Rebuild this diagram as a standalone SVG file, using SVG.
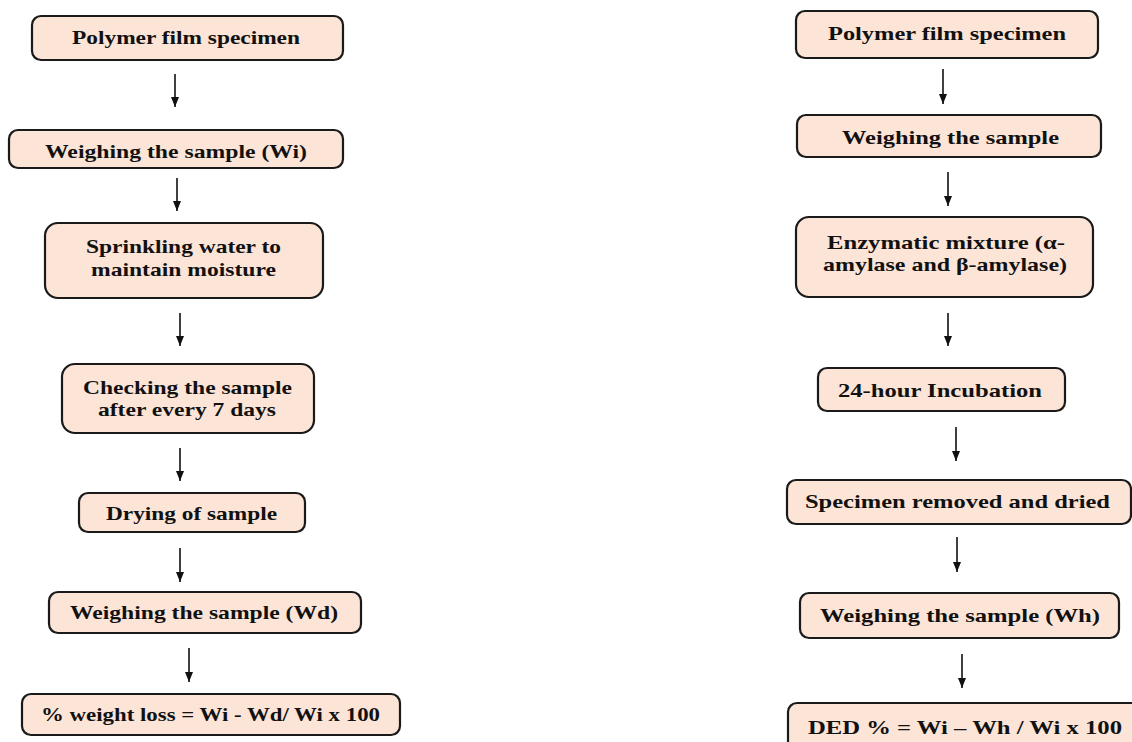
<svg xmlns="http://www.w3.org/2000/svg" width="1132" height="742" viewBox="0 0 1132 742">
<defs>
<style>
.box{fill:#FCE4D6;stroke:#1a1a1a;stroke-width:2.2}
.t{font-family:"Liberation Serif","Times New Roman",serif;font-weight:bold;font-size:19.5px;fill:#111;text-anchor:middle}
.c line{stroke:#111;stroke-width:1.6}
</style>
<marker id="ah" viewBox="0 0 10 8" refX="10" refY="4" markerWidth="10" markerHeight="8" markerUnits="userSpaceOnUse" orient="auto">
<path d="M0,0 L10,4 L0,8 Z" fill="#111"/>
</marker>
</defs>
<rect width="1132" height="742" fill="#fff"/>
<g class="c" id="connectors">
<line x1="175" y1="74" x2="175" y2="107" marker-end="url(#ah)"/>
<line x1="177" y1="178" x2="177" y2="211" marker-end="url(#ah)"/>
<line x1="180" y1="313" x2="180" y2="346" marker-end="url(#ah)"/>
<line x1="180" y1="448" x2="180" y2="481" marker-end="url(#ah)"/>
<line x1="180" y1="548" x2="180" y2="582" marker-end="url(#ah)"/>
<line x1="189" y1="648" x2="189" y2="682" marker-end="url(#ah)"/>
<line x1="943" y1="69" x2="943" y2="104" marker-end="url(#ah)"/>
<line x1="948" y1="172" x2="948" y2="206" marker-end="url(#ah)"/>
<line x1="948" y1="313" x2="948" y2="346" marker-end="url(#ah)"/>
<line x1="956" y1="427" x2="956" y2="461" marker-end="url(#ah)"/>
<line x1="957" y1="537" x2="957" y2="572" marker-end="url(#ah)"/>
<line x1="962" y1="654" x2="962" y2="688" marker-end="url(#ah)"/>
</g>
<g id="L1"><rect class="box" x="32" y="16" width="311" height="44" rx="9"/><text class="t" x="186" y="44" textLength="228" lengthAdjust="spacingAndGlyphs">Polymer film specimen</text></g>
<g id="L2"><rect class="box" x="9" y="130" width="334" height="38" rx="9"/><text class="t" x="176" y="158" textLength="262" lengthAdjust="spacingAndGlyphs">Weighing the sample (Wi)</text></g>
<g id="L3"><rect class="box" x="45" y="223" width="278" height="75" rx="13"/><text class="t" x="183.5" y="253" textLength="195" lengthAdjust="spacingAndGlyphs">Sprinkling water to</text><text class="t" x="183.5" y="276" textLength="185" lengthAdjust="spacingAndGlyphs">maintain moisture</text></g>
<g id="L4"><rect class="box" x="62" y="364" width="252" height="69" rx="13"/><text class="t" x="187.5" y="394" textLength="209" lengthAdjust="spacingAndGlyphs">Checking the sample</text><text class="t" x="187" y="416" textLength="178" lengthAdjust="spacingAndGlyphs">after every 7 days</text></g>
<g id="L5"><rect class="box" x="79" y="493" width="226" height="39" rx="9"/><text class="t" x="191.5" y="520" textLength="171" lengthAdjust="spacingAndGlyphs">Drying of sample</text></g>
<g id="L6"><rect class="box" x="49" y="592" width="312" height="41" rx="9"/><text class="t" x="204" y="619" textLength="268" lengthAdjust="spacingAndGlyphs">Weighing the sample (Wd)</text></g>
<g id="L7"><rect class="box" x="22" y="694" width="378" height="41" rx="9"/><text class="t" x="210.5" y="721" textLength="339" lengthAdjust="spacingAndGlyphs">% weight loss = Wi - Wd/ Wi x 100</text></g>
<g id="R1"><rect class="box" x="796" y="11" width="302" height="47" rx="9"/><text class="t" x="947" y="40" textLength="238" lengthAdjust="spacingAndGlyphs">Polymer film specimen</text></g>
<g id="R2"><rect class="box" x="797" y="115" width="304" height="42" rx="9"/><text class="t" x="950.5" y="144" textLength="217" lengthAdjust="spacingAndGlyphs">Weighing the sample</text></g>
<g id="R3"><rect class="box" x="796" y="217" width="297" height="80" rx="13"/><text class="t" x="946" y="249" textLength="238" lengthAdjust="spacingAndGlyphs">Enzymatic mixture (α-</text><text class="t" x="945" y="271" textLength="244" lengthAdjust="spacingAndGlyphs">amylase and β-amylase)</text></g>
<g id="R4"><rect class="box" x="818" y="368" width="247" height="43" rx="9"/><text class="t" x="940" y="397" textLength="204" lengthAdjust="spacingAndGlyphs">24-hour Incubation</text></g>
<g id="R5"><rect class="box" x="787" y="480" width="344" height="44" rx="9"/><text class="t" x="957.5" y="508" textLength="305" lengthAdjust="spacingAndGlyphs">Specimen removed and dried</text></g>
<g id="R6"><rect class="box" x="800" y="593" width="319" height="45" rx="9"/><text class="t" x="960" y="622" textLength="280" lengthAdjust="spacingAndGlyphs">Weighing the sample (Wh)</text></g>
<g id="R7"><rect class="box" x="788" y="703" width="362" height="52" rx="9"/><text class="t" x="965" y="734" textLength="314" lengthAdjust="spacingAndGlyphs">DED % = Wi – Wh / Wi x 100</text></g>
</svg>
